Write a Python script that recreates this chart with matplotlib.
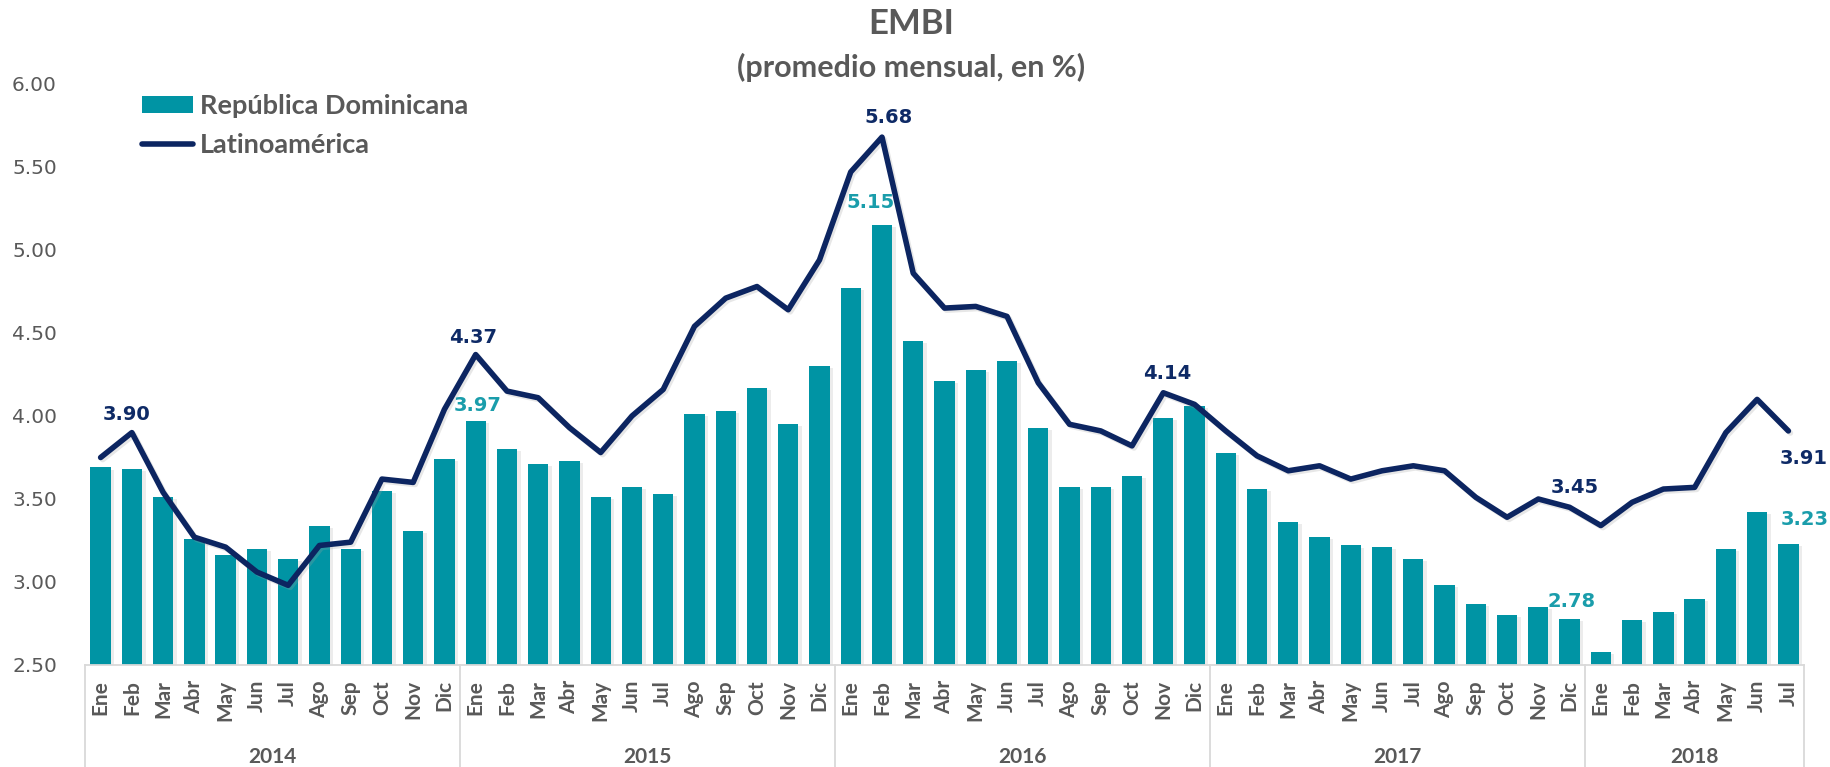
import matplotlib
matplotlib.use("Agg")
import matplotlib.pyplot as plt
import matplotlib.transforms as mtransforms
import matplotlib.patheffects as pe
from matplotlib.patches import Patch
from matplotlib.lines import Line2D
import numpy as np

# ---------------- data ----------------
months = ["Ene", "Feb", "Mar", "Abr", "May", "Jun", "Jul", "Ago", "Sep", "Oct", "Nov", "Dic"]
years = ["2014", "2015", "2016", "2017", "2018"]
months_per_year = [12, 12, 12, 12, 7]

rep_dom = [
    3.69, 3.68, 3.51, 3.26, 3.16, 3.20, 3.14, 3.34, 3.20, 3.55, 3.31, 3.74,
    3.97, 3.80, 3.71, 3.73, 3.51, 3.57, 3.53, 4.01, 4.03, 4.17, 3.95, 4.30,
    4.77, 5.15, 4.45, 4.21, 4.28, 4.33, 3.93, 3.57, 3.57, 3.64, 3.99, 4.06,
    3.78, 3.56, 3.36, 3.27, 3.22, 3.21, 3.14, 2.98, 2.87, 2.80, 2.85, 2.78,
    2.58, 2.77, 2.82, 2.90, 3.20, 3.42, 3.23,
]
latam = [
    3.75, 3.90, 3.54, 3.27, 3.21, 3.06, 2.98, 3.22, 3.24, 3.62, 3.60, 4.04,
    4.37, 4.15, 4.11, 3.93, 3.78, 4.00, 4.16, 4.54, 4.71, 4.78, 4.64, 4.94,
    5.47, 5.68, 4.86, 4.65, 4.66, 4.60, 4.20, 3.95, 3.91, 3.82, 4.14, 4.07,
    3.91, 3.76, 3.67, 3.70, 3.62, 3.67, 3.70, 3.67, 3.51, 3.39, 3.50, 3.45,
    3.34, 3.48, 3.56, 3.57, 3.90, 4.10, 3.91,
]
# indices of the points that carry a value label
latam_labeled = [1, 12, 25, 34, 47, 54]
rep_dom_labeled = [12, 25, 47, 54]

title = "EMBI"
subtitle = "(promedio mensual, en %)"
legend_labels = ["República Dominicana", "Latinoamérica"]

# ---------------- style ----------------
BAR = "#0094A4"
BAR_LABEL = "#1A9DAB"
LINE = "#0C2561"
LINE_LABEL = "#0E2A66"
GRAY = "#595959"
AXIS = "#D9D9D9"

W, H, DPI = 1831, 767, 100
fig = plt.figure(figsize=(W / DPI, H / DPI), dpi=DPI)
fig.patch.set_facecolor("white")

ax_left, ax_right, ax_top, ax_bot = 85, 1804, 84, 665
ax = fig.add_axes([ax_left / W, 1 - ax_bot / H, (ax_right - ax_left) / W, (ax_bot - ax_top) / H])

# category labels built from months / years
cat_labels = []
for y, n in zip(years, months_per_year):
    cat_labels += months[:n]
x = np.arange(len(cat_labels))

bars = ax.bar(x, rep_dom, width=0.65, color=BAR, zorder=2,
              label=legend_labels[0])
for b in bars:
    b.set_path_effects([pe.SimplePatchShadow(offset=(2.5, -1.5), shadow_rgbFace="#a0a0a0", alpha=0.2),
                        pe.Normal()])

ax.plot(x, latam, color=LINE, lw=4.0, solid_joinstyle="round", solid_capstyle="round",
        zorder=3, label=legend_labels[1],
        path_effects=[pe.SimpleLineShadow(offset=(1.5, -1.5), shadow_color="#a0a0a0", alpha=0.25),
                      pe.Normal()])

ax.set_xlim(-0.5, len(x) - 0.5)
ax.set_ylim(2.5, 6.0)
ax.set_yticks(np.arange(2.5, 6.01, 0.5))
ax.set_yticklabels([f"{v:.2f}" for v in np.arange(2.5, 6.01, 0.5)],
                   fontsize=14.5, color=GRAY, family="DejaVu Sans")
ax.tick_params(axis="y", length=0, pad=28 * 72 / DPI)

ax.set_xticks(x)
ax.set_xticklabels(cat_labels, rotation=90, fontsize=15, fontweight="bold",
                   color=GRAY, family="Lato")
ax.tick_params(axis="x", length=0, pad=15 * 72 / DPI)

for s in ["left", "right", "top"]:
    ax.spines[s].set_visible(False)
ax.spines["bottom"].set_color(AXIS)
ax.spines["bottom"].set_linewidth(1.3)

# multi-level category separators and year labels
trans = mtransforms.blended_transform_factory(ax.transData, ax.transAxes)
fig_bottom_axes = -(H - ax_bot) / (ax_bot - ax_top)
bounds = np.concatenate([[0], np.cumsum(months_per_year)]) - 0.5
for bnd in bounds:
    ax.plot([bnd, bnd], [0, fig_bottom_axes], transform=trans, color=AXIS,
            lw=1.3, clip_on=False, zorder=1)
year_y = -(757 - ax_bot) / (ax_bot - ax_top)
for i, yname in enumerate(years):
    cx = (bounds[i] + bounds[i + 1]) / 2
    ax.text(cx, year_y, yname, transform=trans, ha="center", va="center",
            fontsize=15, fontweight="bold", color=GRAY, family="Lato")

# data labels
latam_offsets = {1: (-5, 18), 12: (-3, 17), 25: (7, 20), 34: (4, 19), 47: (5, 20), 54: (15, -28)}
rep_offsets = {12: (2, 15), 25: (-11, 23), 47: (2, 17), 54: (16, 24)}
for i in latam_labeled:
    ax.annotate(f"{latam[i]:.2f}", (x[i], latam[i]), xytext=latam_offsets[i],
                textcoords="offset pixels", ha="center", va="center",
                fontsize=14, fontweight="bold", color=LINE_LABEL,
                family="DejaVu Sans", zorder=5, annotation_clip=False)
for i in rep_dom_labeled:
    ax.annotate(f"{rep_dom[i]:.2f}", (x[i], rep_dom[i]), xytext=rep_offsets[i],
                textcoords="offset pixels", ha="center", va="center",
                fontsize=14, fontweight="bold", color=BAR_LABEL,
                family="DejaVu Sans", zorder=5, annotation_clip=False)

# titles
fig.text(911 / W, 1 - 24 / H, title, ha="center", va="center", fontsize=25,
         fontweight="bold", color=GRAY, family="Lato")
fig.text(911 / W, 1 - 67 / H, subtitle, ha="center", va="center", fontsize=22,
         fontweight="bold", color=GRAY, family="Lato")

# legend
handles = [Patch(facecolor=BAR, edgecolor="none"),
           Line2D([0], [0], color=LINE, lw=4.0, solid_capstyle="round")]
leg = ax.legend(handles, legend_labels, loc="upper left",
                bbox_to_anchor=(142 / W, 1 - 94 / H), bbox_transform=fig.transFigure,
                frameon=False, borderpad=0, borderaxespad=0, handlelength=1.9,
                handleheight=0.62, handletextpad=0.25, labelspacing=0.55,
                prop={"family": "Lato", "weight": "bold", "size": 19.5})
for t in leg.get_texts():
    t.set_color(GRAY)

fig.savefig("out.png", dpi=DPI, facecolor="white")
